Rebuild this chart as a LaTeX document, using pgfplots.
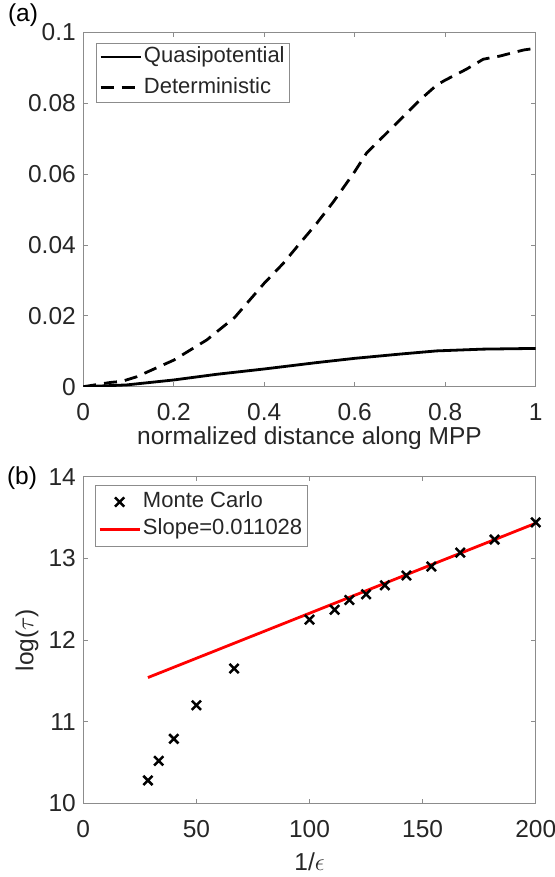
\documentclass[border=0pt]{standalone}
\usepackage{pgfplots}
\pgfplotsset{compat=1.18}
\usepackage{fontspec}
\setmainfont{Liberation Sans}

\definecolor{axgray}{gray}{0.55}
\definecolor{txtgray}{gray}{0.15}
\newcommand{\axfont}{\fontsize{24.5bp}{29bp}\selectfont}
\newcommand{\legfont}{\fontsize{22bp}{26bp}\selectfont}

\pgfplotsset{
  matlab/.style={
    scale only axis,
    width=452.4bp,
    axis line style={axgray, line width=0.8bp},
    tick style={axgray, line width=0.8bp},
    major tick length=4.5bp,
    tick align=inside,
    tick pos=both,
    tick label style={font=\axfont, text=txtgray, inner sep=0bp},
    /pgf/number format/assume math mode=true,
    xticklabel style={yshift=-16.6bp},
    yticklabel style={xshift=-7.3bp},
    every axis x label/.style={at={(axis description cs:0.5,0)}, anchor=base,
      yshift=-58bp, font=\axfont, text=txtgray},
    every axis y label/.style={at={(axis description cs:0,0.5)}, xshift=-50bp,
      rotate=90, anchor=base, font=\axfont, text=txtgray},
    legend style={at={(axis description cs:0,1)}, anchor=north west,
      draw=axgray, fill=white, font=\legfont, text=txtgray,
      inner xsep=3bp,
      nodes={inner sep=2bp, text height=16bp, text depth=5bp}},
    legend cell align=left,
    legend image code/.code={\draw[#1] (0bp,0bp) -- (40bp,0bp);},
  },
  markleg/.style={legend image code/.code={\path[draw=none] (0bp,0bp) -- (40bp,0bp);
      \draw[##1] plot coordinates {(20bp,0bp)};}},
}

\begin{document}
\begin{tikzpicture}
\path[use as bounding box] (0,0) rectangle (555bp,877bp);

% (a) growth along the minimum probability path
\begin{axis}[matlab,
  at={(83.3bp,490.3bp)}, anchor=south west,
  height=354.4bp,
  xmin=0, xmax=1, ymin=0, ymax=0.1,
  xtick={0,0.2,0.4,0.6,0.8,1},
  xticklabels={0,0.2,0.4,0.6,0.8,1},
  ytick={0,0.02,0.04,0.06,0.08,0.1},
  yticklabels={0,0.02,0.04,0.06,0.08,0.1},
  xlabel={normalized distance along MPP},
  legend style={xshift=12.7bp, yshift=-10.4bp, inner ysep=1.6bp, row sep=5.7bp},
]
\addplot[black, line width=2.8bp] coordinates {
  (0,0) (0.096,0.0005) (0.2,0.0019) (0.295,0.0035) (0.4,0.005)
  (0.516,0.0068) (0.6,0.008) (0.7,0.0092) (0.781,0.0101)
  (0.884,0.0106) (1,0.0108)
};
\addlegendentry{Quasipotential}
\addplot[black, line width=2.8bp, dash pattern=on 13bp off 8bp] coordinates {
  (0,0) (0.06,0.0012) (0.085,0.0015) (0.118,0.0028) (0.2,0.0075)
  (0.273,0.0132) (0.335,0.0196) (0.4,0.0292) (0.442,0.0348)
  (0.479,0.0405) (0.516,0.0461) (0.553,0.0522) (0.6,0.0607)
  (0.626,0.0659) (0.663,0.0706) (0.7,0.0753) (0.744,0.0809)
  (0.781,0.0851) (0.8,0.0865) (0.847,0.0896) (0.884,0.0924)
  (0.921,0.0933) (0.973,0.095) (1,0.0955)
};
\addlegendentry{Deterministic}
\end{axis}

% (b) mean exit time against 1/epsilon
\begin{axis}[matlab,
  at={(83.3bp,73.7bp)}, anchor=south west,
  height=326.6bp,
  xmin=0, xmax=200, ymin=10, ymax=14,
  xtick={0,50,100,150,200},
  xticklabels={0,50,100,150,200},
  ytick={10,11,12,13,14},
  yticklabels={10,11,12,13,14},
  xlabel={1/$\epsilon$},
  ylabel={log($\tau$)},
  xlabel style={yshift=-9.5bp},
  legend style={xshift=11.7bp, yshift=-8.3bp, inner ysep=4.3bp, row sep=2.4bp},
]
\addplot[only marks, mark=x, mark size=6.5bp, black,
  mark options={line width=2.5bp}, markleg] coordinates {
  (28.571,10.28) (33.333,10.52) (40,10.79) (50,11.2) (66.667,11.65)
  (100,12.25) (111.111,12.37) (117.647,12.49) (125,12.56)
  (133.333,12.67) (142.857,12.79) (153.846,12.9) (166.667,13.07)
  (181.818,13.23) (200,13.44)
};
\addlegendentry{Monte Carlo}
\addplot[red, line width=2.8bp] coordinates {
  (28.571,11.54) (200,13.43)
};
\addlegendentry{Slope=0.011028}
\end{axis}

\node[font=\axfont] at (23bp,862bp) {(a)};
\node[font=\axfont] at (22bp,399bp) {(b)};
\end{tikzpicture}
\end{document}
